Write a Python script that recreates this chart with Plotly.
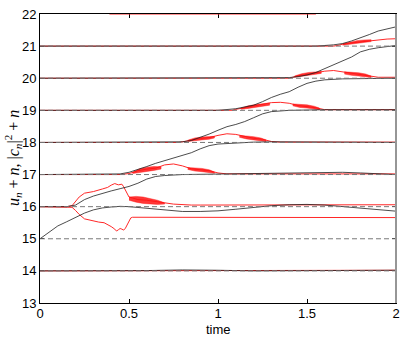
import plotly.graph_objects as go

# ---------------- data ----------------
# black curves: u_n + n
t_b14 = [0, 0.4, 0.6, 0.8, 0.9, 1.0, 1.2, 1.4, 1.6, 1.8, 2.0]
y_b14 = [14, 14, 14.01, 14.03, 14.03, 14.02, 14.0, 14.0, 14.01, 14.02, 14.02]

t_b15 = [0, 0.05, 0.1, 0.15, 0.2, 0.25, 0.3, 0.35, 0.4, 0.45, 0.5, 0.6, 0.7, 0.8, 0.9, 1.0,
         1.1, 1.2, 1.3, 1.4, 1.5, 1.6, 1.7, 1.8, 1.9, 2.0]
y_b15 = [15.0, 15.2, 15.4, 15.53, 15.67, 15.8, 15.9, 15.96, 15.99, 16.01, 16.0, 15.95, 15.88,
         15.85, 15.85, 15.87, 15.92, 15.98, 16.03, 16.06, 16.07, 16.05, 16.0, 15.95, 15.9, 15.86]

t_b16 = [0, 0.15, 0.2, 0.25, 0.3, 0.35, 0.4, 0.45, 0.5, 0.55, 0.6, 0.65, 0.7, 0.8, 0.9, 1.0,
         1.2, 1.4, 1.5, 1.6, 1.7, 1.8, 1.9, 2.0]
y_b16 = [16, 16.0, 16.05, 16.22, 16.33, 16.42, 16.49, 16.56, 16.63, 16.73, 16.86, 16.94, 16.97,
         17.0, 17.01, 17.02, 17.04, 17.06, 17.07, 17.08, 17.07, 17.05, 17.02, 17.0]

t_b17 = [0, 0.4, 0.45, 0.5, 0.55, 0.6, 0.65, 0.7, 0.75, 0.8, 0.85, 0.9, 0.95, 1.0, 1.05, 1.1,
         1.2, 1.3, 1.4, 1.6, 1.8, 2.0]
y_b17 = [17, 17.0, 17.02, 17.07, 17.15, 17.25, 17.35, 17.43, 17.5, 17.58, 17.68, 17.8, 17.9,
         17.95, 17.97, 17.99, 18.01, 18.02, 18.02, 18.02, 18.01, 18.0]

t_b18 = [0, 0.75, 0.8, 0.85, 0.9, 0.95, 1.0, 1.05, 1.1, 1.15, 1.2, 1.25, 1.3, 1.35, 1.4, 1.6,
         1.8, 2.0]
y_b18 = [18, 18.0, 18.02, 18.06, 18.15, 18.26, 18.38, 18.49, 18.56, 18.65, 18.77, 18.89,
         18.96, 18.99, 19.0, 19.02, 19.02, 19.02]

t_b19 = [0, 1.0, 1.1, 1.2, 1.25, 1.3, 1.35, 1.4, 1.45, 1.5, 1.55, 1.6, 1.7, 1.8, 1.9, 2.0]
y_b19 = [19, 19.0, 19.05, 19.16, 19.27, 19.4, 19.5, 19.58, 19.72, 19.84, 19.91, 19.95,
         19.98, 19.99, 20.0, 20.0]

t_b20 = [0, 1.35, 1.4, 1.45, 1.5, 1.55, 1.6, 1.65, 1.7, 1.75, 1.8, 1.85, 1.9, 1.95, 2.0]
y_b20 = [20, 20.0, 20.02, 20.05, 20.1, 20.18, 20.3, 20.42, 20.52, 20.66, 20.82, 20.9, 20.95,
         20.99, 21.02]

t_b21 = [0, 1.55, 1.65, 1.7, 1.75, 1.8, 1.85, 1.9, 1.95, 2.0]
y_b21 = [21, 21.0, 21.04, 21.08, 21.16, 21.25, 21.36, 21.47, 21.53, 21.6]

# red curves: |c_n|^2 + n
t_r14 = [0, 0.8, 1.2, 1.6, 2.0]
y_r14 = [14.0, 14.01, 14.0, 14.02, 14.02]

t_r15 = [0, 0.15, 0.18, 0.2, 0.22, 0.25, 0.28, 0.3, 0.33, 0.36, 0.38, 0.4, 0.42, 0.43, 0.44,
         0.45, 0.46, 0.47, 0.48, 0.49, 0.5, 0.51, 0.52, 0.6, 1.0, 1.5, 2.0]
y_r15 = [16, 16, 15.98, 15.88, 15.76, 15.62, 15.58, 15.55, 15.52, 15.5, 15.45, 15.38, 15.3,
         15.24, 15.28, 15.32, 15.3, 15.27, 15.33, 15.45, 15.55, 15.65, 15.67, 15.67, 15.66,
         15.66, 15.66]

t_r16 = [0, 0.15, 0.18, 0.2, 0.22, 0.25, 0.3, 0.35, 0.38, 0.4, 0.42, 0.44, 0.46, 0.47, 0.48,
         0.49, 0.5, 0.52, 0.55, 0.6, 0.65, 0.7, 0.75, 0.8, 0.85, 0.9, 1.0, 1.5, 2.0]
y_r16 = [16, 16, 16.03, 16.15, 16.3, 16.42, 16.47, 16.55, 16.6, 16.67, 16.72, 16.68, 16.7,
         16.62, 16.5, 16.38, 16.3, 16.27, 16.22, 16.2, 16.17, 16.12, 16.08, 16.06, 16.05,
         16.05, 16.05, 16.06, 16.06]

t_r17 = [0, 0.45, 0.5, 0.55, 0.6, 0.65, 0.7, 0.75, 0.8, 0.85, 0.9, 0.95, 1.0, 1.05, 1.5, 2.0]
y_r17 = [17, 17.0, 17.03, 17.12, 17.17, 17.2, 17.3, 17.33, 17.27, 17.18, 17.15, 17.12, 17.05,
         17.02, 17.02, 17.02]

t_r18 = [0, 0.78, 0.82, 0.85, 0.9, 0.95, 1.0, 1.05, 1.1, 1.15, 1.2, 1.25, 1.3, 1.35, 2.0]
y_r18 = [18, 18.0, 18.04, 18.08, 18.12, 18.15, 18.22, 18.27, 18.25, 18.18, 18.13, 18.1,
         18.03, 18.01, 18.01]

t_r19 = [0, 1.08, 1.1, 1.15, 1.2, 1.25, 1.3, 1.35, 1.4, 1.45, 1.5, 1.55, 1.6, 2.0]
y_r19 = [19, 19.0, 19.03, 19.08, 19.12, 19.18, 19.24, 19.25, 19.22, 19.15, 19.12, 19.08,
         19.02, 19.02]

t_r20 = [0, 1.4, 1.42, 1.45, 1.5, 1.55, 1.6, 1.65, 1.7, 1.75, 1.8, 1.85, 1.9, 2.0]
y_r20 = [20, 20.0, 20.03, 20.08, 20.12, 20.17, 20.22, 20.24, 20.2, 20.15, 20.12, 20.06,
         20.03, 20.03]

t_r21 = [0, 1.65, 1.68, 1.7, 1.75, 1.8, 1.85, 1.9, 1.95, 2.0]
y_r21 = [21, 21.0, 21.03, 21.06, 21.1, 21.13, 21.17, 21.21, 21.22, 21.23]

t_r22 = [0.39, 1.55]
y_r22 = [22, 22]

# oscillation bands on the red curves (lower / upper envelope)
t_band16 = [0.5, 0.54, 0.58, 0.62, 0.66, 0.7]
lo_band16 = [16.2, 16.14, 16.1, 16.08, 16.07, 16.08]
hi_band16 = [16.3, 16.32, 16.3, 16.26, 16.2, 16.12]

t_band17a = [0.52, 0.56, 0.6, 0.64, 0.68]
lo_band17a = [17.03, 17.07, 17.1, 17.13, 17.17]
hi_band17a = [17.07, 17.18, 17.23, 17.25, 17.24]
t_band17b = [0.83, 0.87, 0.91, 0.95, 0.98]
lo_band17b = [17.16, 17.11, 17.09, 17.07, 17.04]
hi_band17b = [17.22, 17.21, 17.19, 17.15, 17.08]

t_band18a = [0.83, 0.87, 0.91, 0.95, 0.98]
lo_band18a = [18.03, 18.06, 18.08, 18.1, 18.14]
hi_band18a = [18.07, 18.14, 18.17, 18.19, 18.19]
t_band18b = [1.12, 1.16, 1.2, 1.24, 1.27]
lo_band18b = [18.16, 18.11, 18.08, 18.06, 18.03]
hi_band18b = [18.22, 18.21, 18.18, 18.14, 18.08]

t_band19a = [1.13, 1.17, 1.21, 1.25, 1.29]
lo_band19a = [19.03, 19.06, 19.09, 19.12, 19.16]
hi_band19a = [19.07, 19.14, 19.18, 19.21, 19.23]
t_band19b = [1.42, 1.46, 1.5, 1.54, 1.57]
lo_band19b = [19.14, 19.09, 19.07, 19.05, 19.02]
hi_band19b = [19.2, 19.19, 19.17, 19.13, 19.07]

t_band20a = [1.43, 1.47, 1.51, 1.55, 1.58]
lo_band20a = [20.03, 20.06, 20.09, 20.12, 20.15]
hi_band20a = [20.07, 20.14, 20.18, 20.2, 20.21]
t_band20b = [1.71, 1.75, 1.79, 1.83, 1.86]
lo_band20b = [20.13, 20.09, 20.07, 20.05, 20.02]
hi_band20b = [20.2, 20.19, 20.17, 20.13, 20.07]

t_band21 = [1.7, 1.74, 1.78, 1.82, 1.86]
lo_band21 = [21.03, 21.06, 21.09, 21.11, 21.14]
hi_band21 = [21.07, 21.13, 21.17, 21.19, 21.2]

levels = [14, 15, 16, 17, 18, 19, 20, 21]
x_range = [0, 2]
y_range = [13, 22]
x_ticks = [0, 0.5, 1, 1.5, 2]
x_ticktext = ["0", "0.5", "1", "1.5", "2"]
y_ticks = [13, 14, 15, 16, 17, 18, 19, 20, 21, 22]

# ---------------- figure ----------------
fig = go.Figure()

RED = "rgb(255,40,40)"
BLACK = "rgb(30,30,30)"

red_curves = [(t_r14, y_r14), (t_r15, y_r15), (t_r16, y_r16), (t_r17, y_r17),
              (t_r18, y_r18), (t_r19, y_r19), (t_r20, y_r20), (t_r21, y_r21),
              (t_r22, y_r22)]
for tx, ty in red_curves:
    fig.add_trace(go.Scatter(x=tx, y=ty, mode="lines", line=dict(color=RED, width=1),
                             hoverinfo="skip", showlegend=False))

bands = [(t_band16, lo_band16, hi_band16), (t_band17a, lo_band17a, hi_band17a),
         (t_band17b, lo_band17b, hi_band17b), (t_band18a, lo_band18a, hi_band18a),
         (t_band18b, lo_band18b, hi_band18b), (t_band19a, lo_band19a, hi_band19a),
         (t_band19b, lo_band19b, hi_band19b), (t_band20a, lo_band20a, hi_band20a),
         (t_band20b, lo_band20b, hi_band20b), (t_band21, lo_band21, hi_band21)]
for tb, lo, hi in bands:
    fig.add_trace(go.Scatter(x=list(tb) + list(tb)[::-1], y=list(hi) + list(lo)[::-1],
                             mode="lines", fill="toself", fillcolor="rgba(255,20,20,0.85)",
                             line=dict(color="rgba(255,20,20,0.85)", width=0.5),
                             hoverinfo="skip", showlegend=False))

black_curves = [(t_b14, y_b14), (t_b15, y_b15), (t_b16, y_b16), (t_b17, y_b17),
                (t_b18, y_b18), (t_b19, y_b19), (t_b20, y_b20), (t_b21, y_b21)]
for tx, ty in black_curves:
    fig.add_trace(go.Scatter(x=tx, y=ty, mode="lines", line=dict(color=BLACK, width=0.8),
                             hoverinfo="skip", showlegend=False))

for lv in levels:
    fig.add_trace(go.Scatter(x=x_range, y=[lv, lv], mode="lines",
                             line=dict(color="rgb(120,120,120)", width=1, dash="5px,3px"),
                             hoverinfo="skip", showlegend=False))

fig.update_layout(
    width=407, height=337,
    margin=dict(l=40, r=7, t=11, b=34),
    plot_bgcolor="white", paper_bgcolor="white",
    font=dict(family="Liberation Sans, Arial, sans-serif", size=13, color="black"),
    showlegend=False,
)
fig.update_xaxes(range=x_range, tickvals=x_ticks, ticktext=x_ticktext, ticks="inside",
                 ticklen=4, tickcolor="black", showline=True, linecolor="black", linewidth=1,
                 mirror="ticks", showgrid=False, zeroline=False, layer="below traces",
                 ticklabelstandoff=-2)
fig.update_yaxes(range=y_range, tickvals=y_ticks, ticks="inside", ticklen=4,
                 tickcolor="black", showline=True, linecolor="black", linewidth=1,
                 mirror="ticks", showgrid=False, zeroline=False, layer="below traces")

# grey right frame edge
fig.add_shape(type="line", xref="x domain", yref="y domain", x0=1, x1=1, y0=0, y1=1,
              line=dict(color="rgb(150,150,150)", width=2))

fig.add_annotation(text="time", xref="paper", yref="paper", x=0.5, y=-0.09,
                   xanchor="center", yanchor="middle", showarrow=False,
                   font=dict(size=13, family="Liberation Sans, Arial, sans-serif"))
fig.add_annotation(
    text="<i>u<sub>n</sub></i> + <i>n</i>, |<i>c<sub>n</sub></i>|<sup>2</sup> + <i>n</i>",
    xref="paper", yref="paper", x=-0.077, y=0.5, textangle=-90,
    xanchor="center", yanchor="middle", showarrow=False,
    font=dict(size=16, family="Liberation Serif, Times New Roman, serif"))

fig.write_html("out.html", config={"displayModeBar": False},
               post_script="document.body.style.margin='0';document.body.style.overflow='hidden';")
